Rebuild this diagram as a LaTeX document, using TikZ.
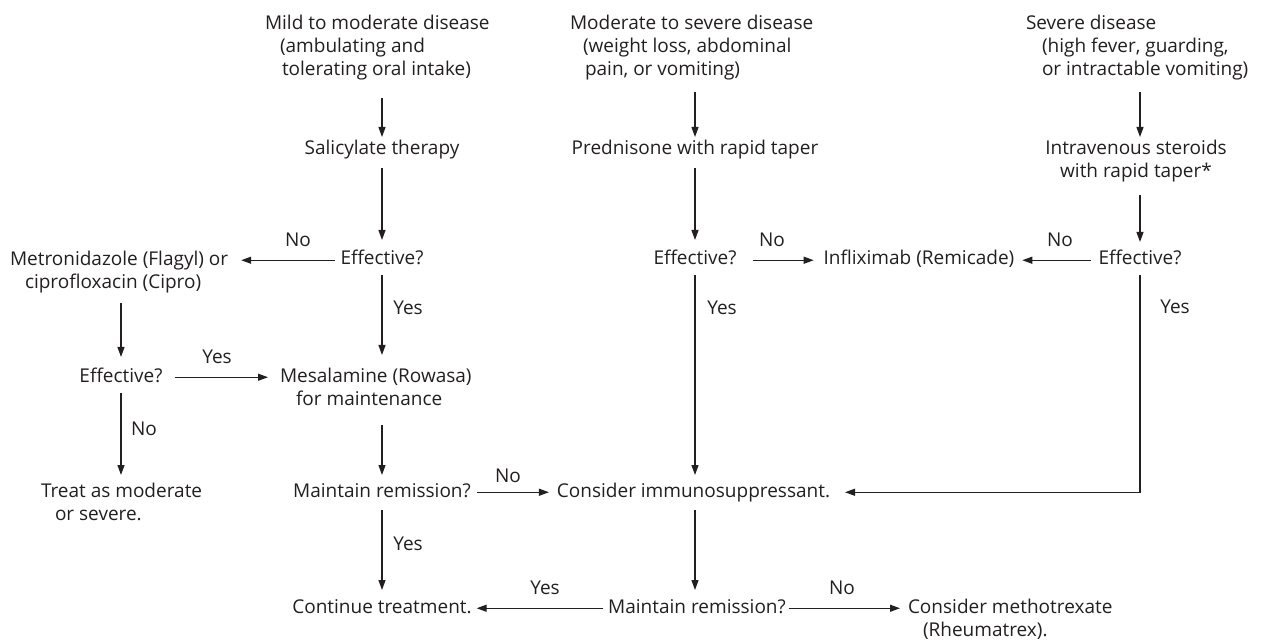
\documentclass[tikz,border=0pt]{standalone}
\usepackage{fontspec}
\setmainfont{Open Sans}
\usetikzlibrary{arrows.meta}
\definecolor{ink}{RGB}{35,31,32}
\newcommand\st{\rule[-5bp]{0pt}{19.5bp}}
\begin{document}
\begin{tikzpicture}[x=1bp,y=-1bp,
  txt/.style={inner sep=0pt, outer sep=0pt, font=\fontsize{19bp}{23bp}\selectfont, text=ink},
  lbl/.style={txt, anchor=base},
  arr/.style={draw=ink, line width=1.2bp, -{Triangle[length=10bp,width=7bp]}}]
\useasboundingbox (0,0) rectangle (1267,641);
% top row
\node[txt, anchor=north west, align=left] (top1) at (265,15.5) {\st Mild to moderate disease\\\hspace*{15bp}\st(ambulating and\\\hspace*{17bp}\st tolerating oral intake)};
\node[txt, anchor=north west, align=left] (top2) at (570,15.5) {\st Moderate to severe disease\\\hspace*{13bp}\st(weight loss, abdominal\\\hspace*{15bp}\st pain, or vomiting)};
\node[txt, anchor=north west, align=left] (top3) at (1026,15.5) {\st Severe disease\\\hspace*{16bp}\st(high fever, guarding,\\\hspace*{16bp}\st or intractable vomiting)};
% second row
\node[txt, anchor=base] (sal) at (382,155) {\st Salicylate therapy};
\node[txt, anchor=base] (pred) at (695,155) {\st Prednisone with rapid taper};
\node[txt, anchor=north, align=center] (ivs) at (1136,140.5) {\st Intravenous steroids\\\st with rapid taper*};
% third row
\node[txt, anchor=north west, align=left] (met) at (10,250.5) {\st Metronidazole (Flagyl) or\\\hspace*{15bp}\st ciprofloxacin (Cipro)};
\node[txt, anchor=base] (eff1) at (382,265) {\st Effective?};
\node[txt, anchor=base] (eff2) at (695,265) {\st Effective?};
\node[txt, anchor=base] (inf) at (919,265) {\st Infliximab (Remicade)};
\node[txt, anchor=base] (eff3) at (1140,265) {\st Effective?};
% fourth row
\node[txt, anchor=base] (eff0) at (121,382) {\st Effective?};
\node[txt, anchor=north west, align=left] (mes) at (280,367.5) {\st Mesalamine (Rowasa)\\\hspace*{16bp}\st for maintenance};
% fifth row
\node[txt, anchor=north west, align=left] (treat) at (41,482.5) {\st Treat as moderate\\\hspace*{14bp}\st or severe.};
\node[txt, anchor=base] (mr1) at (382,497) {\st Maintain remission?};
\node[txt, anchor=base] (imm) at (693.5,497) {\st Consider immunosuppressant.};
% bottom row
\node[txt, anchor=base] (cont) at (382,613) {\st Continue treatment.};
\node[txt, anchor=base] (mr2) at (697,613) {\st Maintain remission?};
\node[txt, anchor=north west, align=left] (meth) at (908,598.5) {\st Consider methotrexate\\\hspace*{15bp}\st(Rheumatrex).};
% labels
\node[lbl] (n1) at (298,247) {No};
\node[lbl] (n2) at (772,247) {No};
\node[lbl] (n3) at (1060,247) {No};
\node[lbl] (n4) at (144,435) {No};
\node[lbl] (n5) at (508,482) {No};
\node[lbl] (n6) at (842,594) {No};
\node[lbl] (y1) at (408,315) {Yes};
\node[lbl] (y2) at (722,315) {Yes};
\node[lbl] (y3) at (1175,314) {Yes};
\node[lbl] (y4) at (217,364) {Yes};
\node[lbl] (y5) at (408,550) {Yes};
\node[lbl] (y6) at (545,594) {Yes};
% connectors
\draw[arr, shorten <=17bp, shorten >=3.5bp] (sal.north |- top1.south) -- (sal.north);
\draw[arr, shorten <=11bp, shorten >=3.5bp] (pred.north |- top2.south) -- (pred.north);
\draw[arr, shorten <=11bp, shorten >=3.5bp] (eff3.north |- top3.south) -- (eff3.north |- ivs.north);
\draw[arr, shorten <=8bp, shorten >=10.5bp] (sal.south) -- (eff1.north);
\draw[arr, shorten <=8bp, shorten >=10.5bp] (pred.south) -- (eff2.north);
\draw[arr, shorten <=12bp, shorten >=8.5bp] (eff3.north |- ivs.south) -- (eff3.north);
\draw[arr, shorten <=6bp, shorten >=13bp] (eff1.west) -- (eff1.west -| met.east);
\draw[arr, shorten <=16bp, shorten >=10bp] (eff2.east) -- (inf.west);
\draw[arr, shorten <=8bp, shorten >=8bp] (eff3.west) -- (inf.east);
\draw[arr, shorten <=5bp, shorten >=12.5bp] (eff1.south) -- (eff1.south |- mes.north);
\draw[arr, shorten <=10bp, shorten >=10.5bp] (eff0.north |- met.south) -- (eff0.north);
\draw[arr, shorten <=12bp, shorten >=12bp] (eff0.east) -- (eff0.east -| mes.west);
\draw[arr, shorten <=6bp, shorten >=7.5bp] (eff0.south) -- (eff0.south |- treat.north);
\draw[arr, shorten <=15bp, shorten >=7.5bp] (mr1.north |- mes.south) -- (mr1.north);
\draw[arr, shorten <=5bp, shorten >=7.5bp] (eff2.south) -- (eff2.south |- imm.north);
\draw[arr, shorten <=6bp, shorten >=8bp] (mr1.east) -- (imm.west);
\draw[arr, shorten <=5bp, shorten >=15bp] (eff3.south) |- (imm.east);
\draw[arr, shorten <=8bp, shorten >=8.5bp] (mr1.south) -- (cont.north);
\draw[arr, shorten <=8bp, shorten >=8.5bp] (eff2.south |- imm.south) -- (eff2.south |- mr2.north);
\draw[arr, shorten <=5bp, shorten >=5bp] (mr2.west) -- (cont.east);
\draw[arr, shorten <=3bp, shorten >=8bp] (mr2.east) -- (mr2.east -| meth.west);
\end{tikzpicture}
\end{document}
